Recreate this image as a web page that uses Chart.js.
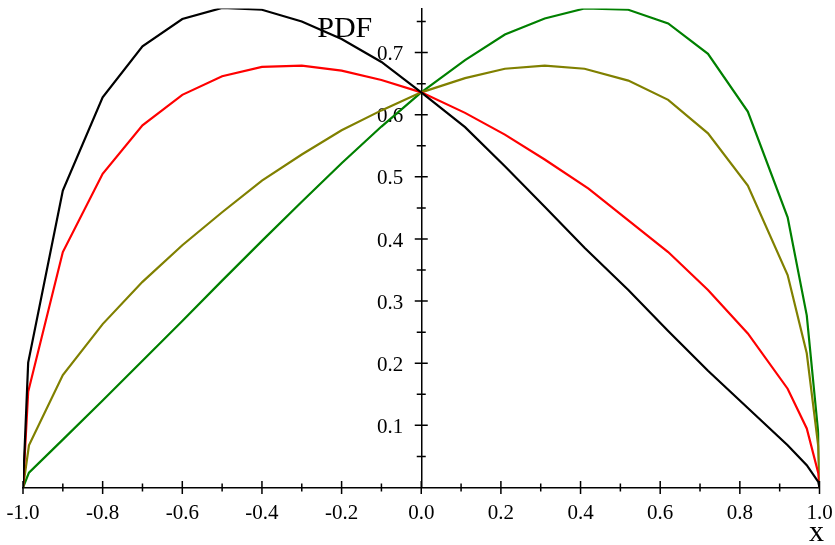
<!DOCTYPE html>
<html>
<head>
<meta charset="utf-8">
<script src="https://cdn.jsdelivr.net/npm/chart.js@4/dist/chart.umd.min.js"></script>
<style>
  html, body { margin: 0; padding: 0; background: #fff; }
</style>
</head>
<body>
<canvas id="pdfChart" width="835" height="545"></canvas>
<script>
// tick labels
const xTickLabels = [-1.0, -0.8, -0.6, -0.4, -0.2, 0.0, 0.2, 0.4, 0.6, 0.8, 1.0];
const yTickLabels = [0.1, 0.2, 0.3, 0.4, 0.5, 0.6, 0.7];

// black curve
const blackX = [-1, -0.987, -0.9, -0.8, -0.7, -0.6, -0.5, -0.4, -0.3, -0.2, -0.1, 0,
  0.11, 0.21, 0.31, 0.41, 0.52, 0.62, 0.72, 0.82, 0.92, 0.968, 0.997, 1];
const blackY = [0, 0.201, 0.478, 0.628, 0.710, 0.754, 0.772, 0.769, 0.750, 0.722, 0.685, 0.636,
  0.580, 0.517, 0.452, 0.386, 0.318, 0.252, 0.188, 0.128, 0.068, 0.036, 0.009, 0];

// red curve
const redX = [-1, -0.987, -0.9, -0.8, -0.7, -0.6, -0.5, -0.4, -0.3, -0.2, -0.1, 0,
  0.11, 0.21, 0.31, 0.42, 0.52, 0.62, 0.72, 0.82, 0.92, 0.968, 0.997, 1];
const redY = [0, 0.154, 0.379, 0.505, 0.583, 0.632, 0.662, 0.677, 0.679, 0.671, 0.656, 0.636,
  0.603, 0.568, 0.528, 0.481, 0.430, 0.379, 0.318, 0.248, 0.159, 0.095, 0.023, 0];

// olive curve
const oliveX = [-1, -0.985, -0.9, -0.8, -0.7, -0.6, -0.5, -0.4, -0.3, -0.2, -0.1, 0,
  0.11, 0.21, 0.31, 0.41, 0.52, 0.62, 0.72, 0.82, 0.92, 0.968, 0.997, 1];
const oliveY = [0, 0.068, 0.181, 0.263, 0.331, 0.390, 0.443, 0.494, 0.536, 0.575, 0.607, 0.636,
  0.659, 0.674, 0.679, 0.674, 0.655, 0.624, 0.570, 0.486, 0.342, 0.216, 0.066, 0];

// green curve
const greenX = [-1, -0.985, -0.9, -0.8, -0.7, -0.6, -0.5, -0.4, -0.3, -0.2, -0.1, 0,
  0.11, 0.21, 0.31, 0.41, 0.52, 0.62, 0.72, 0.82, 0.92, 0.968, 0.997, 1];
const greenY = [0, 0.024, 0.077, 0.140, 0.204, 0.268, 0.333, 0.397, 0.460, 0.522, 0.581, 0.636,
  0.688, 0.729, 0.755, 0.771, 0.769, 0.747, 0.698, 0.605, 0.435, 0.277, 0.087, 0];

const toPoints = (xs, ys) => xs.map((x, i) => ({ x: x, y: ys[i] }));

const serif = '"Liberation Serif", "Times New Roman", serif';

function curve(xs, ys, color) {
  return {
    data: toPoints(xs, ys),
    borderColor: color,
    borderWidth: 2.2,
    pointRadius: 0,
    tension: 0,
    fill: false
  };
}

// tick marks on both sides of the axes, y labels, and the two axis titles
const axisMarks = {
  id: 'axisMarks',
  beforeDatasetsDraw(chart) {
    const { ctx, scales: { x, y } } = chart;
    const x0 = x.getPixelForValue(0);
    ctx.save();
    ctx.fillStyle = '#000';
    ctx.font = '21px ' + serif;
    ctx.textAlign = 'right';
    ctx.textBaseline = 'middle';
    yTickLabels.forEach(v => {
      ctx.fillText(v.toFixed(1), x0 - 18, y.getPixelForValue(v) + 2);
    });
    ctx.font = '30px ' + serif;
    ctx.textBaseline = 'alphabetic';
    ctx.fillText('PDF', x0 - 49, 37);
    ctx.textAlign = 'center';
    ctx.fillText('x', x.getPixelForValue(1) - 3, 541);
    ctx.restore();
  },
  afterDraw(chart) {
    const { ctx, scales: { x, y } } = chart;
    const x0 = x.getPixelForValue(0);
    const y0 = y.getPixelForValue(0);
    ctx.save();
    ctx.strokeStyle = '#000';
    ctx.lineWidth = 1.5;
    ctx.beginPath();
    for (let i = -10; i <= 10; i++) {
      const px = x.getPixelForValue(i / 10);
      const len = i % 2 === 0 ? 6.5 : 4;
      ctx.moveTo(px, y0 - len);
      ctx.lineTo(px, y0 + len);
    }
    for (let j = 1; j <= 15; j++) {
      const py = y.getPixelForValue(j * 0.05);
      const len = j % 2 === 0 ? 6.5 : 4.5;
      ctx.moveTo(x0 - len, py);
      ctx.lineTo(x0 + len, py);
    }
    ctx.stroke();
    ctx.restore();
  }
};

// keep the centred axes from eating into the plot area
function noSpace(s) {
  if (s.isHorizontal()) s.height = 0; else s.width = 0;
  s.paddingLeft = 0;
  s.paddingRight = 0;
  s.paddingTop = 0;
  s.paddingBottom = 0;
}

new Chart(document.getElementById('pdfChart'), {
  type: 'line',
  data: {
    datasets: [
      curve(blackX, blackY, '#000000'),
      curve(redX, redY, '#ff0000'),
      curve(oliveX, oliveY, '#808000'),
      curve(greenX, greenY, '#008000')
    ]
  },
  options: {
    responsive: false,
    animation: false,
    layout: { padding: { left: 23, right: 15.5, top: 8.5, bottom: 57.5 } },
    plugins: {
      legend: { display: false },
      tooltip: { enabled: false }
    },
    scales: {
      x: {
        type: 'linear',
        position: { y: 0 },
        min: -1,
        max: 1,
        afterBuildTicks: s => { s.ticks = xTickLabels.map(v => ({ value: v })); },
        afterFit: noSpace,
        grid: { display: true, drawOnChartArea: false, drawTicks: false },
        border: { display: true, color: '#000', width: 1.5 },
        ticks: {
          autoSkip: false,
          maxRotation: 0,
          padding: 13,
          color: '#000',
          font: { family: serif, size: 21 },
          callback: v => v.toFixed(1)
        }
      },
      y: {
        type: 'linear',
        position: { x: 0 },
        min: 0,
        max: 0.771,
        afterFit: noSpace,
        grid: { display: true, drawOnChartArea: false, drawTicks: false },
        border: { display: true, color: '#000', width: 1.5 },
        ticks: { display: false }
      }
    }
  },
  plugins: [axisMarks]
});
</script>
</body>
</html>
